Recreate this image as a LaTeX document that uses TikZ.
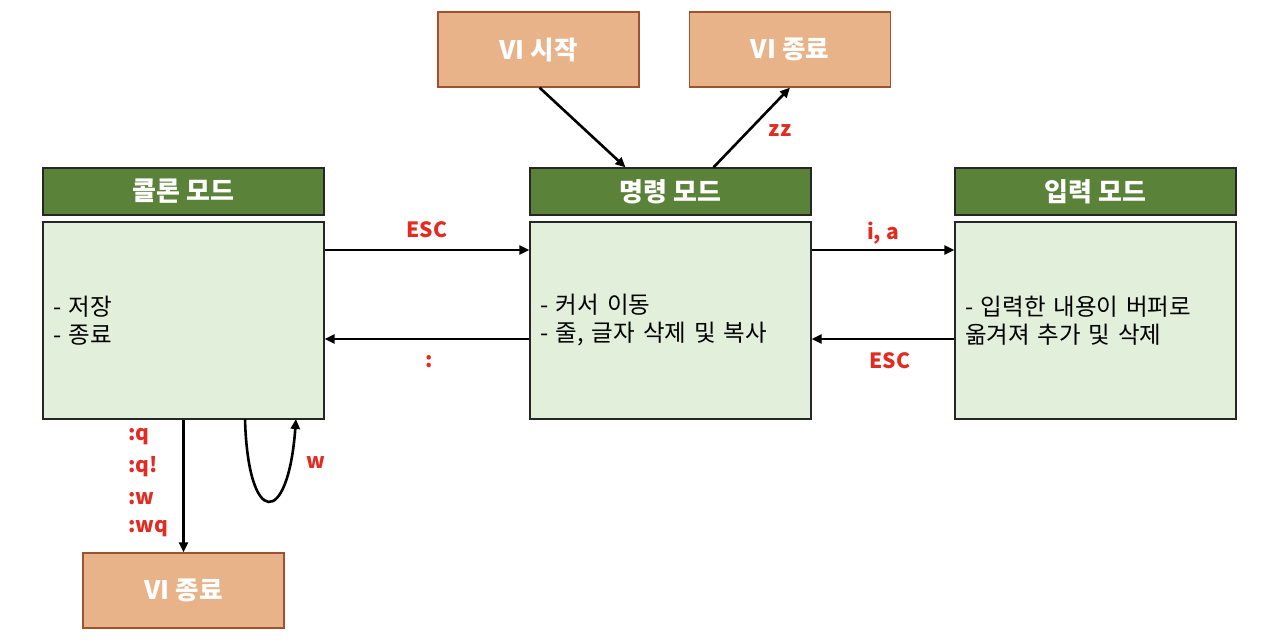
\documentclass[tikz,border=0pt]{standalone}
\usepackage{fontspec}
\setmainfont{Noto Sans CJK KR}
\usetikzlibrary{arrows.meta}
\definecolor{orfill}{HTML}{E9B38A}
\definecolor{ordraw}{HTML}{A0522D}
\definecolor{grhead}{HTML}{5B8239}
\definecolor{grbody}{HTML}{E2EFDA}
\definecolor{lblred}{HTML}{E32B22}
\tikzset{
  vibox/.style={draw=ordraw, line width=1.2pt, fill=orfill, minimum width=201pt, minimum height=75pt, inner sep=0pt, text=white, font=\fontsize{25.5}{28}\selectfont\bfseries},
  headbox/.style={draw=black!85, line width=1.3pt, fill=grhead, minimum width=281pt, minimum height=47pt, inner sep=0pt, text=white, font=\fontsize{26}{28}\selectfont\bfseries},
  bodybox/.style={draw=black!85, line width=1.3pt, fill=grbody, minimum width=281pt, minimum height=197pt, inner xsep=10pt, inner ysep=0pt, text width=261pt, align=left, font=\fontsize{23.5}{28}\selectfont},
  conn/.style={line width=2.6pt, -{Triangle[length=10pt,width=9pt]}},
  lbl/.style={text=lblred, font=\fontsize{21}{24}\selectfont\bfseries, inner sep=0pt}
}
\begin{document}
\begin{tikzpicture}[x=1pt,y=-1pt]
\useasboundingbox (0,0) rectangle (1280,644);
% top boxes
\node[vibox] (start) at (538.5,49.5) {VI 시작};
\node[vibox] (endtop) at (790,49.5) {VI 종료};
% headers
\node[headbox] (colonh) at (183.5,191.5) {콜론 모드};
\node[headbox] (cmdh) at (670.5,191.5) {명령 모드};
\node[headbox] (inh) at (1095.5,191.5) {입력 모드};
% bodies
\node[bodybox] (colonb) at (183.5,320.5) {- 저장\\- 종료};
\node[bodybox] (cmdb) at (670.5,320.5) {- 커서 이동\\- 줄, 글자 삭제 및 복사};
\node[bodybox] (inb) at (1095.5,320.5) {- 입력한 내용이 버퍼로\\옮겨져 추가 및 삭제};
% bottom box
\node[vibox] (endbot) at (183.5,590.5) {VI 종료};
% connectors
\draw[conn] (start.south) ++(1,0) coordinate (s1) (s1) -- ([xshift=-45pt]cmdh.north);
\draw[conn] ([xshift=43pt]cmdh.north) -- ([xshift=0pt]endtop.south);
\draw[conn] (colonb.east |- 0,250) -- (cmdb.west |- 0,250);
\draw[conn] (cmdb.west |- 0,339) -- (colonb.east |- 0,339);
\draw[conn] (cmdb.east |- 0,250) -- (inb.west |- 0,250);
\draw[conn] (inb.west |- 0,339) -- (cmdb.east |- 0,339);
\draw[conn] (colonb.south) -- (endbot.north);
\coordinate (loopa) at (245,419);
\coordinate (loopb) at (296,419);
\draw[conn] (loopa) .. controls (248,528) and (288,528) .. (loopb);
% labels
\node[lbl] (lzz) at (780,131) {zz};
\node[lbl] (lesc1) at (427,230) {ESC};
\node[lbl] (lcolon) at (429,362) {:};
\node[lbl] (lia) at (883,233) {i, a};
\node[lbl] (lesc2) at (890,361) {ESC};
\node[lbl, anchor=west] (lq) at (128,437) {:q};
\node[lbl, anchor=west] (lqx) at (128,467) {:q!};
\node[lbl, anchor=west] (lw) at (128,499) {:w};
\node[lbl, anchor=west] (lwq) at (128,529) {:wq};
\node[lbl] (lw2) at (316,463) {w};
\end{tikzpicture}
\end{document}
